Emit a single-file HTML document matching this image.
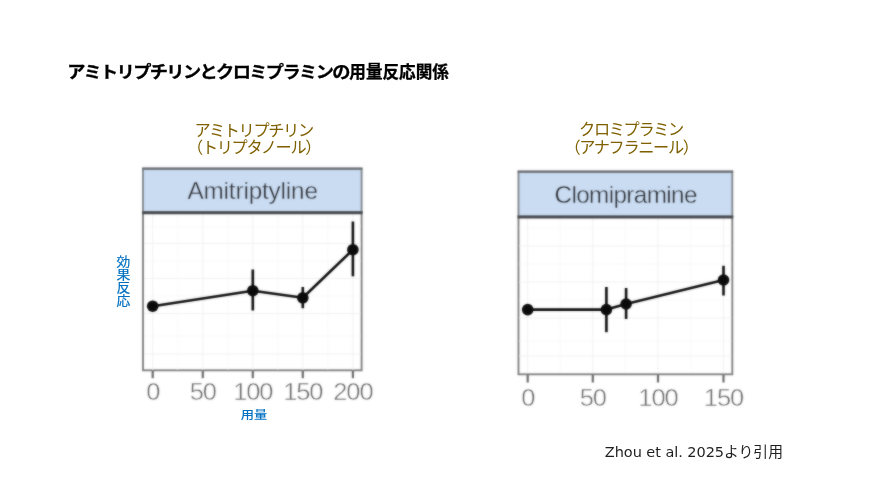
<!DOCTYPE html>
<html lang="ja">
<head>
<meta charset="utf-8">
<title>アミトリプチリンとクロミプラミンの用量反応関係</title>
<style>
html,body{margin:0;padding:0;background:#fff;}
body{width:886px;height:498px;overflow:hidden;position:relative;}
svg{position:absolute;left:0;top:0;display:block;}
.jp{font-family:"Liberation Sans","Noto Sans CJK JP",sans-serif;}
.lat{font-family:"Liberation Sans",sans-serif;}
.cite{font-family:"DejaVu Sans","Noto Sans CJK JP",sans-serif;}
</style>
</head>
<body>
<svg width="886" height="498" viewBox="0 0 886 498">
  <defs>
    <filter id="b1" color-interpolation-filters="sRGB" x="-5%" y="-5%" width="110%" height="110%"><feGaussianBlur stdDeviation="0.9" result="b"/><feComposite in="SourceGraphic" in2="b" operator="arithmetic" k1="0" k2="0.45" k3="0.55" k4="0"/></filter>
  </defs>
  <rect x="0" y="0" width="886" height="498" fill="#ffffff"/>

  <!-- Title -->
  <g class="jp" font-size="16.6" font-weight="700" fill="#000" stroke="#000" stroke-width="0.3">
    <text transform="translate(67.2 78) scale(1.1 1)" x="0" y="0" letter-spacing="-1.51">アミトリプチリンとクロミプラミンの</text>
    <text x="349.3" y="78">用量反応関係</text>
  </g>

  <!-- Subtitles -->
  <g class="jp" font-size="16.2" letter-spacing="-1.35" fill="#7f6000" text-anchor="middle">
    <text x="253.6" y="135.5">アミトリプチリン</text>
    <text x="253.6" y="152.5">（トリプタノール）</text>
    <text x="631" y="135">クロミプラミン</text>
    <text x="631" y="152.5">（アナフラニール）</text>
  </g>

  <!-- Chart 1 -->
  <g filter="url(#b1)">
    <rect x="143" y="212" width="218.6" height="158.3" fill="#fff" stroke="#808080" stroke-width="1.9"/>
    <g stroke="#f1f1f1" stroke-width="1">
      <line x1="152.7" y1="213" x2="152.7" y2="370"/>
      <line x1="202.8" y1="213" x2="202.8" y2="370"/>
      <line x1="252.8" y1="213" x2="252.8" y2="370"/>
      <line x1="302.8" y1="213" x2="302.8" y2="370"/>
      <line x1="352.9" y1="213" x2="352.9" y2="370"/>
      <line x1="144" y1="243.5" x2="361" y2="243.5"/>
      <line x1="144" y1="278.5" x2="361" y2="278.5"/>
      <line x1="144" y1="313.5" x2="361" y2="313.5"/>
      <line x1="144" y1="354" x2="361" y2="354"/>
    </g>
    <g stroke="#f8f8f8" stroke-width="0.8">
      <line x1="177.7" y1="213" x2="177.7" y2="370"/>
      <line x1="227.8" y1="213" x2="227.8" y2="370"/>
      <line x1="277.8" y1="213" x2="277.8" y2="370"/>
      <line x1="327.8" y1="213" x2="327.8" y2="370"/>
      <line x1="144" y1="226.5" x2="361" y2="226.5"/>
      <line x1="144" y1="261" x2="361" y2="261"/>
      <line x1="144" y1="296" x2="361" y2="296"/>
      <line x1="144" y1="336" x2="361" y2="336"/>
    </g>
    <rect x="143" y="168.7" width="218.6" height="43.6" fill="#cadcf2" stroke="#82878c" stroke-width="1.9"/>
    <line x1="142.1" y1="168.7" x2="362.5" y2="168.7" stroke="#6a6f74" stroke-width="2.3"/>
    <line x1="142.1" y1="212.8" x2="362.5" y2="212.8" stroke="#43474b" stroke-width="3"/>
    <g stroke="#6a6a6a" stroke-width="2.2">
      <line x1="152.7" y1="371" x2="152.7" y2="378.2"/>
      <line x1="202.8" y1="371" x2="202.8" y2="378.2"/>
      <line x1="252.8" y1="371" x2="252.8" y2="378.2"/>
      <line x1="302.8" y1="371" x2="302.8" y2="378.2"/>
      <line x1="352.9" y1="371" x2="352.9" y2="378.2"/>
    </g>
    <g stroke="#0c0c0c" stroke-width="2.6" fill="none" stroke-linecap="butt">
      <polyline points="152.7,306.2 252.8,290.7 302.8,297.8 352.9,249.7" stroke-linejoin="round"/>
      <line x1="252.8" y1="269.5" x2="252.8" y2="310.5"/>
      <line x1="302.8" y1="287" x2="302.8" y2="308.2"/>
      <line x1="352.9" y1="221.5" x2="352.9" y2="276.3"/>
    </g>
    <g fill="#0a0a0a">
      <circle cx="152.7" cy="306.2" r="5.8"/>
      <circle cx="252.8" cy="290.7" r="5.8"/>
      <circle cx="302.8" cy="297.8" r="5.8"/>
      <circle cx="352.9" cy="249.7" r="5.8"/>
    </g>
    <text class="lat" x="252.7" y="199" font-size="24.3" fill="#2c3036" stroke="#cadcf2" stroke-width="0.4" text-anchor="middle" textLength="130.5" lengthAdjust="spacing">Amitriptyline</text>
    <g class="lat" font-size="23.6" letter-spacing="-1" fill="#666" stroke="#fff" stroke-width="0.5" text-anchor="middle">
      <text transform="translate(152.7 400.2) scale(1.08 1)">0</text>
      <text transform="translate(202.8 400.2) scale(1.08 1)">50</text>
      <text transform="translate(252.8 400.2) scale(1.08 1)">100</text>
      <text transform="translate(302.8 400.2) scale(1.08 1)">150</text>
      <text transform="translate(352.9 400.2) scale(1.08 1)">200</text>
    </g>
  </g>

  <!-- axis labels chart 1 -->
  <g class="jp" font-size="13.3" fill="#0070c0" text-anchor="middle">
    <g stroke="#0070c0" stroke-width="0.2">
      <text transform="translate(123.3 266) scale(1.04 0.95)">効</text>
      <text transform="translate(123.3 279.1) scale(1.04 0.95)">果</text>
      <text transform="translate(123.3 292.2) scale(1.04 0.95)">反</text>
      <text transform="translate(123.3 305.3) scale(1.04 0.95)">応</text>
    </g>
    <text transform="translate(254 419.3) scale(1 0.86)" font-weight="500">用量</text>
  </g>

  <!-- Chart 2 -->
  <g filter="url(#b1)">
    <rect x="518.5" y="216.4" width="213.8" height="157.9" fill="#fff" stroke="#808080" stroke-width="1.9"/>
    <g stroke="#f1f1f1" stroke-width="1">
      <line x1="527.7" y1="217" x2="527.7" y2="372"/>
      <line x1="592.8" y1="217" x2="592.8" y2="372"/>
      <line x1="658" y1="217" x2="658" y2="372"/>
      <line x1="723.5" y1="217" x2="723.5" y2="372"/>
      <line x1="519" y1="246" x2="731.5" y2="246"/>
      <line x1="519" y1="282" x2="731.5" y2="282"/>
      <line x1="519" y1="318" x2="731.5" y2="318"/>
      <line x1="519" y1="356" x2="731.5" y2="356"/>
    </g>
    <g stroke="#f8f8f8" stroke-width="0.8">
      <line x1="560.2" y1="217" x2="560.2" y2="372"/>
      <line x1="625.4" y1="217" x2="625.4" y2="372"/>
      <line x1="690.7" y1="217" x2="690.7" y2="372"/>
      <line x1="519" y1="228" x2="731.5" y2="228"/>
      <line x1="519" y1="264" x2="731.5" y2="264"/>
      <line x1="519" y1="300" x2="731.5" y2="300"/>
      <line x1="519" y1="341" x2="731.5" y2="341"/>
    </g>
    <rect x="518.5" y="171.7" width="213.8" height="45" fill="#cadcf2" stroke="#82878c" stroke-width="1.9"/>
    <line x1="517.6" y1="171.7" x2="733.2" y2="171.7" stroke="#6a6f74" stroke-width="2.3"/>
    <line x1="517.6" y1="216.9" x2="733.2" y2="216.9" stroke="#43474b" stroke-width="3"/>
    <g stroke="#6a6a6a" stroke-width="2.2">
      <line x1="527.7" y1="375" x2="527.7" y2="382.5"/>
      <line x1="592.8" y1="375" x2="592.8" y2="382.5"/>
      <line x1="658" y1="375" x2="658" y2="382.5"/>
      <line x1="723.5" y1="375" x2="723.5" y2="382.5"/>
    </g>
    <g stroke="#0c0c0c" stroke-width="2.6" fill="none">
      <polyline points="527.7,309.6 606.4,309.6 626.1,304 723.5,280" stroke-linejoin="round"/>
      <line x1="606.4" y1="287" x2="606.4" y2="332.2"/>
      <line x1="626.1" y1="288" x2="626.1" y2="319"/>
      <line x1="723.5" y1="265.8" x2="723.5" y2="295.5"/>
    </g>
    <g fill="#0a0a0a">
      <circle cx="527.7" cy="309.6" r="5.8"/>
      <circle cx="606.4" cy="309.6" r="5.8"/>
      <circle cx="626.1" cy="304" r="5.8"/>
      <circle cx="723.5" cy="280" r="5.8"/>
    </g>
    <text class="lat" x="626" y="202.8" font-size="24.3" fill="#2c3036" stroke="#cadcf2" stroke-width="0.4" text-anchor="middle" textLength="143" lengthAdjust="spacing">Clomipramine</text>
    <g class="lat" font-size="23.6" letter-spacing="-1" fill="#666" stroke="#fff" stroke-width="0.5" text-anchor="middle">
      <text transform="translate(527.7 405.5) scale(1.08 1)">0</text>
      <text transform="translate(592.8 405.5) scale(1.08 1)">50</text>
      <text transform="translate(658.0 405.5) scale(1.08 1)">100</text>
      <text transform="translate(723.5 405.5) scale(1.08 1)">150</text>
    </g>
  </g>

  <!-- Citation -->
  <text class="cite" x="604.8" y="456.6" font-size="14.5" fill="#1f1f1f" letter-spacing="-0.05">Zhou et al. 2025<tspan font-size="14.8" letter-spacing="0">より引用</tspan></text>
</svg>
</body>
</html>
